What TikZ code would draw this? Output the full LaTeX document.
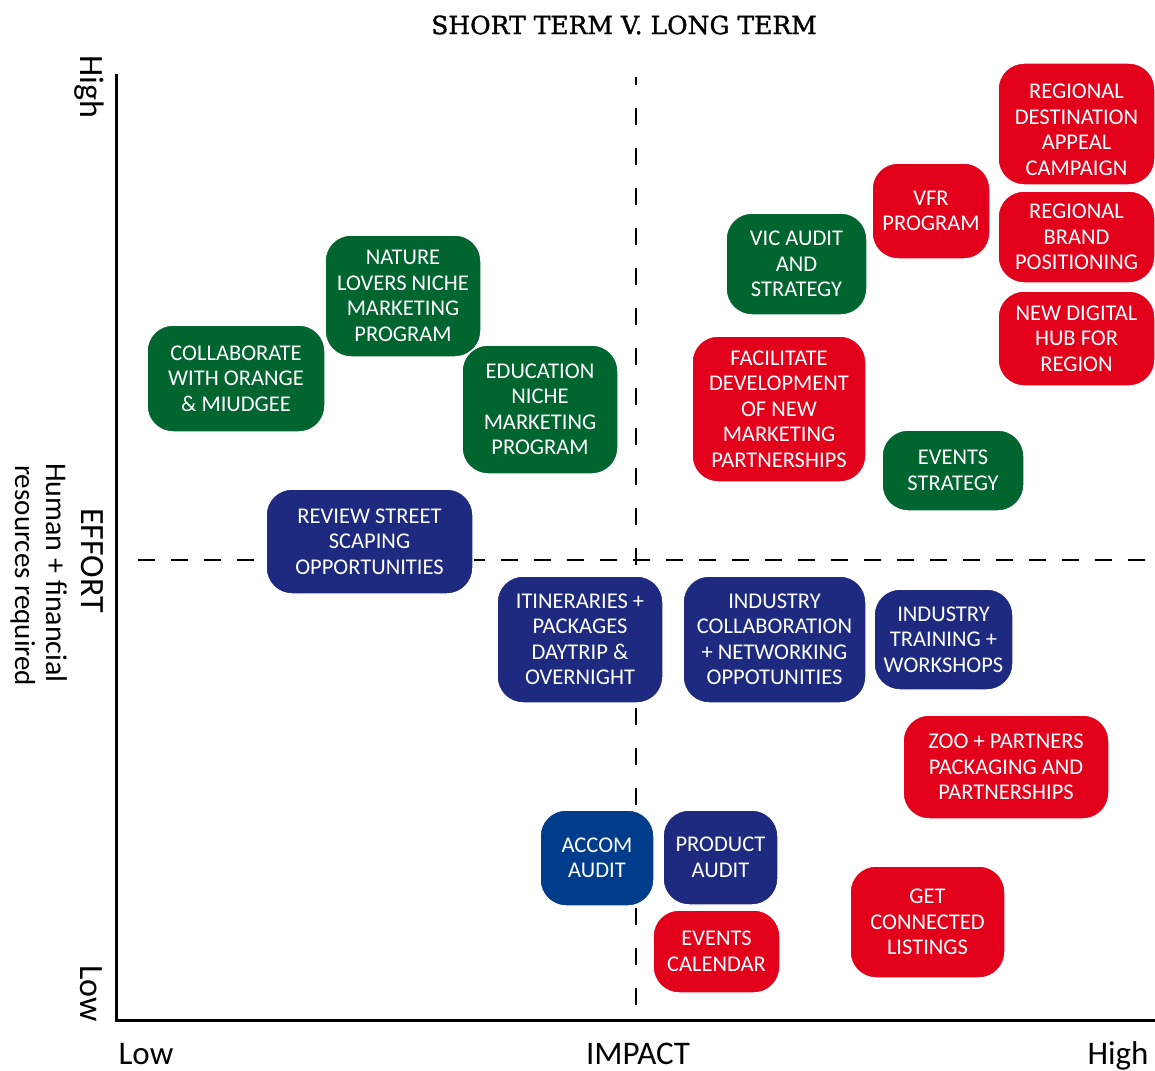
\documentclass[tikz,border=0pt]{standalone}
\usepackage{fontspec}
\setmainfont{Carlito}
\newfontfamily\titlefont[FakeBold=1.2]{DejaVu Serif}
\definecolor{cred}{RGB}{227,0,27}
\definecolor{cgreen}{RGB}{0,101,46}
\definecolor{cblue}{RGB}{29,42,128}
\definecolor{cblueb}{RGB}{0,60,140}
\tikzset{
  box/.style={rounded corners=26pt, draw=white, line width=1.5pt, text=white,
    align=center, inner sep=0pt, font=\fontsize{22.5}{25.5}\selectfont},
  sz/.style 2 args={minimum width=#1pt, minimum height=#2pt},
  redbox/.style={box, fill=cred},
  greenbox/.style={box, fill=cgreen},
  bluebox/.style={box, fill=cblue},
  axisline/.style={line width=3pt, line cap=rect},
  dashline/.style={line width=2.6pt},
  axlabel/.style={inner sep=0pt, font=\fontsize{33}{36}\selectfont},
  sidelabel/.style={inner sep=0pt, rotate=-90, anchor=base west},
}
\begin{document}
\begin{tikzpicture}[x=1pt, y=-1pt]
\useasboundingbox (0,0) rectangle (1155,1070);

% axes
\coordinate (top) at (116,76);
\coordinate (origin) at (116,1020);
\coordinate (right) at (1155,1020);
\draw[axisline] (top) -- (origin) -- (right);

% quadrant dividers
\coordinate (vtop) at (636,77);
\coordinate (vbot) at (636,1020);
\coordinate (hleft) at (138,560);
\coordinate (hright) at (1155,560);
\draw[dashline, dash pattern=on 17pt off 23pt, dash phase=9pt] (vtop) -- (vbot);
\draw[dashline, dash pattern=on 17pt off 16pt] (hleft) -- (hright);

% title and axis labels
\node (title) at (624,25) {\titlefont\fontsize{25}{28}\selectfont SHORT TERM V. LONG TERM};
\node[axlabel, anchor=base] (xlow) at (146,1064) {Low};
\node[axlabel, anchor=base] (ximpact) at (638,1064) {IMPACT};
\node[axlabel, anchor=base] (xhigh) at (1118,1064) {High};
\node[sidelabel, font=\fontsize{34}{38}\selectfont] (yhigh) at (80,55) {High};
\node[sidelabel, font=\fontsize{34}{38}\selectfont] (ylow) at (80,965) {Low};
\node[sidelabel, font=\fontsize{34}{38}\selectfont] (yeffort) at (81,508) {EFFORT};
\node[sidelabel, font=\fontsize{30}{32}\selectfont] (yhuman) at (46,463) {Human + financial};
\node[sidelabel, font=\fontsize{29}{32}\selectfont] (yres) at (15,465) {resources required};

% boxes
\node[greenbox, sz={178}{107}] (collab) at (236,378.5) {COLLABORATE\\WITH ORANGE\\\& MIUDGEE};
\node[greenbox, sz={156}{122}] (nature) at (403,296) {NATURE\\LOVERS NICHE\\MARKETING\\PROGRAM};
\node[greenbox, sz={156}{129}] (edu) at (540,409.5) {EDUCATION\\NICHE\\MARKETING\\PROGRAM};
\node[bluebox, sz={207}{105}] (review) at (369.5,541.5) {REVIEW STREET\\SCAPING\\OPPORTUNITIES};

\node[redbox, sz={157}{122}] (rdac) at (1076.5,124) {\rule{0pt}{26pt}REGIONAL\\DESTINATION\\APPEAL\\CAMPAIGN};
\node[redbox, sz={118}{96}] (vfr) at (931,211) {VFR\\PROGRAM};
\node[redbox, sz={157}{92}] (brand) at (1076.5,237) {REGIONAL\\BRAND\\POSITIONING};
\node[redbox, sz={157}{95}] (hub) at (1076.5,338.5) {NEW DIGITAL\\HUB FOR\\REGION};
\node[greenbox, sz={141}{102}] (vic) at (796.5,264) {VIC AUDIT\\AND\\STRATEGY};
\node[redbox, sz={174}{146}] (facil) at (779,409) {FACILITATE\\DEVELOPMENT\\OF NEW\\MARKETING\\PARTNERSHIPS};
\node[greenbox, sz={142}{81}] (evstrat) at (953,470.5) {EVENTS\\STRATEGY};

\node[bluebox, sz={166}{127}] (itin) at (580,639.5) {ITINERARIES +\\PACKAGES\\DAYTRIP \&\\OVERNIGHT};
\node[bluebox, sz={183}{127}] (indcol) at (774.5,639.5) {INDUSTRY\\COLLABORATION\\+ NETWORKING\\OPPOTUNITIES};
\node[bluebox, sz={139}{101}] (train) at (943.5,639.5) {INDUSTRY\\TRAINING +\\WORKSHOPS};
\node[redbox, sz={206}{104}] (zoo) at (1006,767) {ZOO + PARTNERS\\PACKAGING AND\\PARTNERSHIPS};
\node[box, fill=cblueb, sz={114}{96}] (accom) at (597,858) {ACCOM\\AUDIT};
\node[bluebox, sz={115}{95}] (product) at (720.5,857.5) {PRODUCT\\AUDIT};
\node[redbox, sz={127}{83}] (evcal) at (716.5,951.5) {EVENTS\\CALENDAR};
\node[redbox, sz={155}{112}] (getcon) at (927.5,922) {GET\\CONNECTED\\LISTINGS};
\end{tikzpicture}
\end{document}
